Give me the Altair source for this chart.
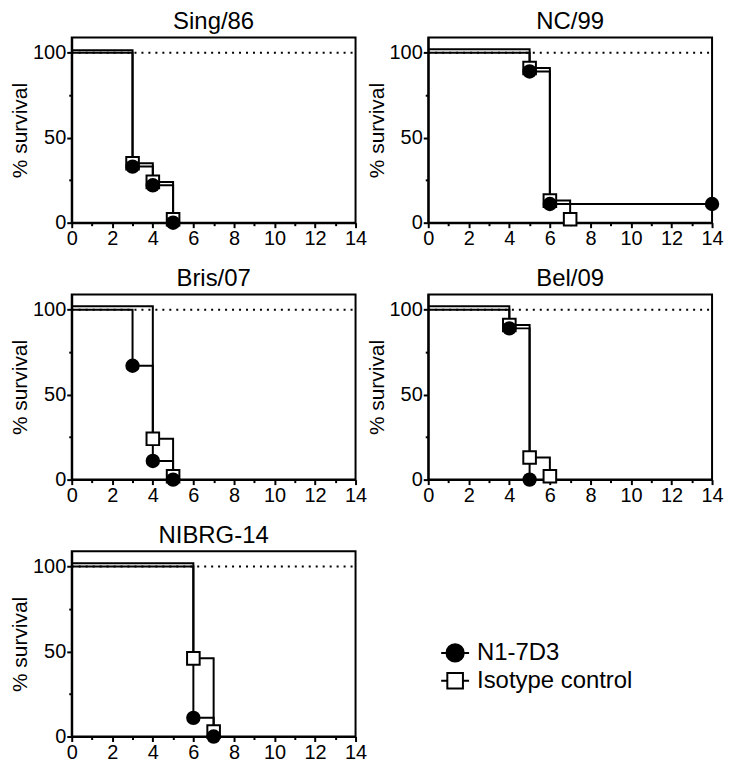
import altair as alt
import pandas as pd

FONT = "Liberation Sans"

titles = ["Sing/86", "NC/99", "Bris/07", "Bel/09", "NIBRG-14"]
groups = ["N1-7D3", "Isotype control"]

# Sing/86
sing_n1_day = [0, 3, 4, 5]
sing_n1_surv = [100, 33, 22, 0]
sing_iso_day = [0, 3, 4, 5]
sing_iso_surv = [101.5, 35, 24, 2]

# NC/99
nc_n1_day = [0, 5, 6, 14]
nc_n1_surv = [100, 89, 11, 11]
nc_iso_day = [0, 5, 6, 7]
nc_iso_surv = [102, 91, 13, 2]

# Bris/07
bris_n1_day = [0, 3, 4, 5]
bris_n1_surv = [100, 67, 11, 0]
bris_iso_day = [0, 4, 5]
bris_iso_surv = [102, 24, 2]

# Bel/09
bel_n1_day = [0, 4, 5]
bel_n1_surv = [100, 89, 0]
bel_iso_day = [0, 4, 5, 6]
bel_iso_surv = [102, 91, 13, 2]

# NIBRG-14
nibrg_n1_day = [0, 6, 7]
nibrg_n1_surv = [100, 11, 0]
nibrg_iso_day = [0, 6, 7]
nibrg_iso_surv = [102, 46, 3]

ref_level = [100]
x_domain = [0, 14]
y_domain = [0, 109]
x_ticks = list(range(0, 15))
y_ticks = [0, 25, 50, 75, 100]

PW, PH = 285, 186

circle_line = "M-1,0H-0.62M0.62,0H1M-0.62,0A0.62,0.62,0,1,1,0.62,0A0.62,0.62,0,1,1,-0.62,0Z"
square_line = "M-1,0H-0.56M0.56,0H1M-0.56,-0.56H0.56V0.56H-0.56Z"

xaxis = alt.Axis(
    values=x_ticks,
    labelExpr="datum.value % 2 === 0 ? datum.label : ''",
    tickSize={"condition": {"test": "datum.value % 2 === 1", "value": 3}, "value": 5},
    labelOverlap=False, labelFlush=False, grid=False, title=None,
    domainColor="black", domainWidth=2, tickColor="black", tickWidth=2,
    labelFontSize=20, labelFont=FONT, labelColor="black", labelPadding=1,
)
yaxis = alt.Axis(
    values=y_ticks,
    labelExpr="datum.value % 50 === 0 ? datum.label : ''",
    tickSize={"condition": {"test": "datum.value % 50 !== 0", "value": 3}, "value": 5},
    labelOverlap=False, labelFlush=False, grid=False, title="% survival",
    domainColor="black", domainWidth=2, tickColor="black", tickWidth=2,
    labelFontSize=20, labelFont=FONT, labelColor="black", labelPadding=1,
    titleFontSize=21, titleFont=FONT, titleFontWeight="normal", titleColor="black",
    titlePadding=2,
)


def panel(title, n1_day, n1_surv, iso_day, iso_surv, with_legend=False):
    df = pd.DataFrame({
        "day": n1_day + iso_day,
        "surv": n1_surv + iso_surv,
        "group": [groups[0]] * len(n1_day) + [groups[1]] * len(iso_day),
    })
    base = alt.Chart(df)
    x = alt.X("day:Q", scale=alt.Scale(domain=x_domain, nice=False), axis=xaxis)
    y = alt.Y("surv:Q", scale=alt.Scale(domain=y_domain, nice=False), axis=yaxis)

    ref = alt.Chart(pd.DataFrame({"d0": [x_domain[0]], "d1": [x_domain[1]], "lvl": ref_level})).mark_rule(
        strokeDash=[2, 5], strokeWidth=2, color="black"
    ).encode(x=alt.X("d0:Q", scale=alt.Scale(domain=x_domain, nice=False), axis=xaxis), x2="d1:Q",
             y=alt.Y("lvl:Q", scale=alt.Scale(domain=y_domain, nice=False), axis=yaxis))

    lines = base.mark_line(interpolate="step-after", color="black", strokeWidth=2).encode(
        x=x, y=y, detail="group:N"
    )
    squares = base.transform_filter(
        (alt.datum.group == groups[1]) & (alt.datum.day > 0)
    ).mark_point(shape="square", filled=True, fill="white", stroke="black", strokeWidth=2,
                 size=160, opacity=1).encode(x=x, y=y)
    circles = base.transform_filter(
        (alt.datum.group == groups[0]) & (alt.datum.day > 0)
    ).mark_point(shape="circle", filled=True, color="black", size=210, opacity=1).encode(x=x, y=y)

    layers = [ref, lines, squares, circles]
    if with_legend:
        leg = alt.Legend(
            title=None, orient="none", legendX=370, legendY=603, padding=0,
            labelFontSize=24, labelFont=FONT, labelColor="black", labelOffset=7,
            symbolSize=784, symbolStrokeWidth=2,
            symbolOpacity=1, rowPadding=0, labelLimit=400,
        )
        dummy = base.mark_point(filled=True, opacity=0).encode(
            x=x, y=y,
            shape=alt.Shape("group:N", scale=alt.Scale(domain=groups, range=[circle_line, square_line]),
                            sort=groups, legend=leg),
            fill=alt.Fill("group:N", scale=alt.Scale(domain=groups, range=["black", "white"]),
                          sort=groups, legend=leg),
            stroke=alt.Stroke("group:N", scale=alt.Scale(domain=groups, range=["black", "black"]),
                              sort=groups, legend=leg),
        )
        layers.append(dummy)
    return alt.layer(*layers).properties(
        width=PW, height=PH,
        title=alt.TitleParams(title, fontSize=24, font=FONT, fontWeight="normal", color="black", offset=3),
    )


p1 = panel(titles[0], sing_n1_day, sing_n1_surv, sing_iso_day, sing_iso_surv, with_legend=True)
p2 = panel(titles[1], nc_n1_day, nc_n1_surv, nc_iso_day, nc_iso_surv)
p3 = panel(titles[2], bris_n1_day, bris_n1_surv, bris_iso_day, bris_iso_surv)
p4 = panel(titles[3], bel_n1_day, bel_n1_surv, bel_iso_day, bel_iso_surv)
p5 = panel(titles[4], nibrg_n1_day, nibrg_n1_surv, nibrg_iso_day, nibrg_iso_surv)

chart = alt.concat(
    p1, p2, p3, p4, p5,
    columns=2,
    spacing={"row": 72, "column": 73},
    bounds="flush",
).configure(
    padding=0, background="white",
    view=alt.ViewConfig(stroke="black", strokeWidth=2),
)

chart.save("out.html", embed_options={"renderer": "svg", "actions": False})
